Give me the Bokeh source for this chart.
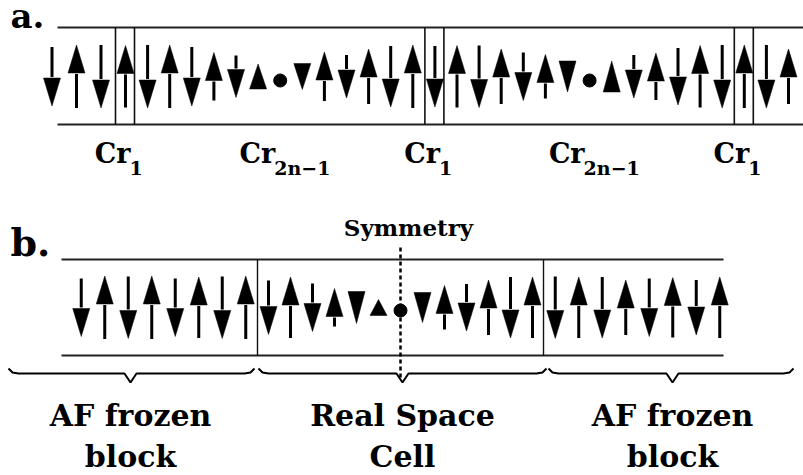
from bokeh.plotting import figure
from bokeh.models import Range1d
from bokeh.embed import file_html
from bokeh.resources import INLINE
from bokeh.core.properties import value

# ---- data -------------------------------------------------------------
# Cr moments along the chain, as signed arrow lengths (+ up, - down, 0 = node)
moments_a = [-59, 63, -63, 62, -63, 63, -59, 48, -42, 25, 0, -26, 49, -43, 55,
             -61, 63, -61, 62, -62, 55, -48, 44, -31, 0, 31, -43, 47, -57, 62,
             -63, 63, -63, 55]
cr1_sites_a = [3, 17, 31]          # Cr1 sites (boxed)
node_sites_a = [10, 24]            # Cr_{2n-1} nodes (dots)

moments_b = [-58, 63, -62, 63, -58, 61, -62, 63, -54, 61, -48, 38, -32, 16, 0,
             -30, 44, -47, 55, -61, 61, -62, 61, -61, 55, -58, 60, -55, 61]
cell_sites_b = (8, 20)             # first / last site of the real space cell
node_site_b = 14                   # symmetry centre

block_titles = ["AF frozen", "Real Space", "AF frozen"]
block_subtitles = ["block", "Cell", "block"]

# ---- layout -----------------------------------------------------------
FONT = value("DejaVu Serif")
INK = "#000000"
HEAD_LEN, HEAD_HALF, SHAFT_W = 28, 8.5, 3

# panel a: first Cr1 site position, site spacing (wider before the first Cr1)
A_CR1_X, A_DX, A_DX_LEAD, A_YC = 125, 22.1, 24.5, 76
A_TOP, A_BOT, A_LEFT, A_RIGHT = 27, 124, 57, 803

B_XC, B_DX_CELL, B_DX_BLOCK, B_YC = 400, 22.0, 23.5, 307
B_TOP, B_BOT, B_LEFT, B_RIGHT = 259, 355, 61, 723


def xa(i):
    k = i - cr1_sites_a[0]
    return A_CR1_X + k * (A_DX if k >= 0 else A_DX_LEAD)


def xb(i):
    lo, hi = cell_sites_b
    if lo <= i <= hi:
        return B_XC + (i - node_site_b) * B_DX_CELL
    edge_l = B_XC - (node_site_b - lo + 0.5) * B_DX_CELL
    edge_r = B_XC + (hi - node_site_b + 0.5) * B_DX_CELL
    if i < lo:
        return edge_l - B_DX_BLOCK / 2 - (lo - 1 - i) * B_DX_BLOCK
    return edge_r + B_DX_BLOCK / 2 + (i - hi - 1) * B_DX_BLOCK


def baseline(y, size):
    # the svg text anchor sits a little below the requested baseline
    return y - 0.44 * size


p = figure(width=803, height=475, x_range=Range1d(0, 803), y_range=Range1d(475, 0),
           x_axis_type=None, y_axis_type=None, output_backend="svg",
           toolbar_location=None, min_border=0, outline_line_color=None,
           background_fill_color="white", border_fill_color="white")
p.grid.visible = False


def label(xs, y, texts, size, align="center"):
    p.text(xs, [baseline(y, size)] * len(xs), text=texts, text_font=FONT,
           text_font_style="bold", text_font_size=f"{size}px", text_align=align,
           text_baseline="alphabetic", text_color=INK)


def draw_spins(xs, moments, yc, dot_y):
    heads_x, heads_y = [], []
    sx, sy0, sy1 = [], [], []
    dots_x = []
    for x, m in zip(xs, moments):
        if m == 0:
            dots_x.append(x)
            continue
        L = abs(m)
        d = 1 if m > 0 else -1
        tip = yc - d * L / 2
        tail = yc + d * L / 2
        # short moments are drawn as a bare triangle
        h = L if L < HEAD_LEN + 8 else HEAD_LEN
        base = tip + d * h
        heads_x.append([x - HEAD_HALF, x + HEAD_HALF, x])
        heads_y.append([base, base, tip])
        if L > h:
            sx.append(x)
            sy0.append(tail)
            sy1.append(base + d * 1)
    p.segment(sx, sy0, sx, sy1, line_width=SHAFT_W, line_color=INK)
    p.patches(heads_x, heads_y, fill_color=INK, line_color=INK, line_width=0.5)
    p.scatter(dots_x, [dot_y] * len(dots_x), size=13, marker="circle",
              fill_color=INK, line_color=INK)


# ---- panel a ----------------------------------------------------------
p.segment([A_LEFT, A_LEFT], [A_TOP, A_BOT], [A_RIGHT, A_RIGHT], [A_TOP, A_BOT],
          line_width=1.8, line_color="#222222")
vx = [xa(i) - 10 for i in cr1_sites_a] + [xa(i) + 9 for i in cr1_sites_a]
p.segment(vx, [A_TOP] * len(vx), vx, [A_BOT] * len(vx), line_width=1.6, line_color="#111111")
draw_spins([xa(i) for i in range(len(moments_a))], moments_a, A_YC, 80)

# Cr labels: main symbol + subscript
cr_x = [xa(i) + 5 for i in cr1_sites_a] + [xa(i) - 5 for i in node_sites_a]
cr_sub = ["1"] * len(cr1_sites_a) + ["2n\u22121"] * len(node_sites_a)
label(cr_x, 165, ["Cr"] * len(cr_x), 27, "right")
label([x - 1 for x in cr_x], 176, cr_sub, 19, "left")

# ---- panel b ----------------------------------------------------------
p.segment([B_LEFT, B_LEFT], [B_TOP, B_BOT], [B_RIGHT, B_RIGHT], [B_TOP, B_BOT],
          line_width=1.8, line_color="#222222")
edges = [B_XC - (node_site_b - cell_sites_b[0] + 0.5) * B_DX_CELL,
         B_XC + (cell_sites_b[1] - node_site_b + 0.5) * B_DX_CELL]
p.segment(edges, [B_TOP] * 2, edges, [B_BOT] * 2, line_width=1.4, line_color="#111111")
p.segment([B_XC], [247], [B_XC], [378], line_width=2.5, line_color=INK, line_dash="4 3")
draw_spins([xb(i) for i in range(len(moments_b))], moments_b, B_YC, 310)

label([B_XC + 8], 237, ["Symmetry"], 23)

# braces under the three blocks
BR_Y = 373
spans = [(8, 254, 130), (258, 546, 402), (548, 793, 672)]
bx, by = [], []
for x0, x1, tip in spans:
    bx.append([x0, x0 + 4, x0 + 10, tip - 6, tip, tip + 6, x1 - 10, x1 - 4, x1])
    by.append([BR_Y - 5, BR_Y - 1, BR_Y, BR_Y, BR_Y + 9, BR_Y, BR_Y, BR_Y - 1, BR_Y - 5])
p.multi_line(bx, by, line_width=2, line_color=INK)

tips = [s[2] for s in spans]
label(tips, 428, block_titles, 30)
label(tips, 469, block_subtitles, 30)

# panel letters
label([10], 30, ["a."], 34, "left")
label([10], 259, ["b."], 38, "left")

open("out.html", "w").write(file_html(p, INLINE))
